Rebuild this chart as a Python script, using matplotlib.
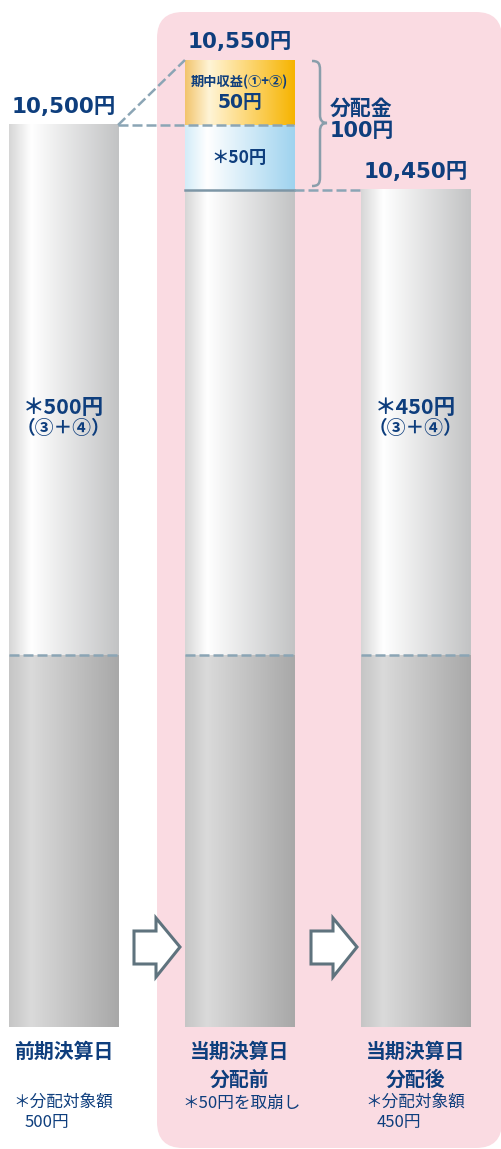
import matplotlib
matplotlib.use("Agg")
import matplotlib.pyplot as plt
import matplotlib.transforms as mtransforms
from matplotlib.colors import LinearSegmentedColormap
from matplotlib.patches import FancyBboxPatch, Polygon, PathPatch
from matplotlib.path import Path
import numpy as np

# データ（基準価額の推移：分配金の仕組み）
categories = ["前期決算日", "当期決算日\n分配前", "当期決算日\n分配後"]
nav = [10500, 10550, 10450]          # 基準価額（円）
income = 50                          # 期中収益（①+②）
drawdown = 50                        # 取崩し分
distribution = income + drawdown     # 分配金
target_amount = [500, None, 450]     # 分配対象額

# レイアウト（模式図なので下部は縮尺外）
base_val = 9806      # 棒の下端
split_val = 10092    # 点線の位置
bar_w = 0.62

NAVY = "#0e3e7d"
DASH = "#8ba5b5"
W, H = 502, 1149

fig = plt.figure(figsize=(W / 100, H / 100), dpi=100)
ax = fig.add_axes([0, 0, 1, 1])
ax.set_xlim(-63.5 / 176, (W - 63.5) / 176)
ax.set_ylim(10500 - (H - 125) / 1.3, 10500 + 125 / 1.3)
ax.set_autoscale_on(False)
ax.axis("off")

# ピクセル座標（左上原点）
px = mtransforms.Affine2D().scale(1 / W, -1 / H).translate(0, 1) + ax.transAxes
xpx = mtransforms.blended_transform_factory(ax.transData, px)

cjk = ["Noto Sans CJK JP", "DejaVu Sans"]
num = ["DejaVu Sans", "Noto Sans CJK JP"]

# ピンクの背景
bg = FancyBboxPatch((157, 12), W - 157, H - 13, boxstyle="round,pad=0,rounding_size=26",
                    transform=px, fc="#fadbe2", ec="none", zorder=0)
ax.add_patch(bg)

cm_top = LinearSegmentedColormap.from_list("top", [(0, "#d6d6d6"), (0.2, "#ffffff"), (1, "#c2c3c4")])
cm_low = LinearSegmentedColormap.from_list("low", [(0, "#c5c5c5"), (0.2, "#dadada"), (1, "#a8a8a8")])
cm_org = LinearSegmentedColormap.from_list("org", [(0, "#f2c46c"), (0.22, "#fff4d6"), (0.55, "#fdd97c"), (1, "#f6b400")])
cm_blu = LinearSegmentedColormap.from_list("blu", [(0, "#d3ecf8"), (0.2, "#ffffff"), (1, "#9fd3ef")])
grad = np.linspace(0, 1, 256).reshape(1, -1)


def seg(i, y0, y1, cmap):
    ax.imshow(grad, extent=[i - bar_w / 2, i + bar_w / 2, y0, y1], cmap=cmap,
              aspect="auto", interpolation="bicubic", zorder=2)


after = nav[1] - distribution
tops = [nav[0], after, nav[2]]
for i, top in enumerate(tops):
    seg(i, base_val, split_val, cm_low)
    seg(i, split_val, top, cm_top)
    ax.plot([i - bar_w / 2, i + bar_w / 2], [split_val, split_val], color=DASH, lw=1.8,
            ls=(0, (4, 1.6)), zorder=3)

# 当期分配前の上乗せ部分
seg(1, after, after + drawdown, cm_blu)
seg(1, after + drawdown, nav[1], cm_org)

# 補助線
ax.plot([0 + bar_w / 2, 1 - bar_w / 2], [nav[0], nav[1]], color=DASH, lw=1.8, ls=(0, (4, 1.6)), zorder=3)
ax.plot([0 + bar_w / 2, 1 + bar_w / 2], [nav[0], nav[0]], color=DASH, lw=1.8, ls=(0, (4, 1.6)), zorder=3)
ax.plot([1 - bar_w / 2, 1 + bar_w / 2], [after, after], color="#7d96a6", lw=1.8, zorder=3)
ax.plot([1 + bar_w / 2, 2 - bar_w / 2], [nav[2], nav[2]], color=DASH, lw=1.8, ls=(0, (4, 1.6)), zorder=3)

# 基準価額ラベル
for i, v in enumerate(nav):
    ax.annotate(f"{v:,}円", (i, v), xytext=(0, 13), textcoords="offset points",
                ha="center", va="center", fontsize=15.5, fontweight="bold",
                color=NAVY, family=num, zorder=5)

# 棒の中のラベル
ax.text(1, nav[1] - income * 0.34, "期中収益(①+②)", ha="center", va="center",
        fontsize=9.5, fontweight="bold", color=NAVY, family=cjk, zorder=5)
ax.text(1, nav[1] - income * 0.66, f"{income}円", ha="center", va="center",
        fontsize=13.5, fontweight="bold", color=NAVY, family=num, zorder=5)
ax.text(1, after + drawdown / 2, f"＊{drawdown}円", ha="center", va="center",
        fontsize=12.5, fontweight="bold", color=NAVY, family=cjk, zorder=5)
for i in (0, 2):
    ax.text(i, 408, f"＊{target_amount[i]}円", transform=xpx, ha="center", va="center",
            fontsize=15.5, fontweight="bold", color=NAVY, family=cjk, zorder=5)
    ax.text(i, 429, "（③＋④）", transform=xpx, ha="center", va="center",
            fontsize=13.5, fontweight="bold", color=NAVY, family=cjk, zorder=5)

# 分配金の括弧
verts = [(312, 61), (318, 61), (320, 63), (320, 70), (320, 115), (320, 120), (322, 123), (327, 123),
         (322, 123), (320, 126), (320, 131), (320, 177), (320, 184), (318, 186), (312, 186)]
codes = [Path.MOVETO, Path.CURVE4, Path.CURVE4, Path.CURVE4, Path.LINETO, Path.CURVE4, Path.CURVE4,
         Path.CURVE4, Path.CURVE4, Path.CURVE4, Path.CURVE4, Path.LINETO, Path.CURVE4, Path.CURVE4,
         Path.CURVE4]
ax.add_patch(PathPatch(Path(verts, codes), transform=px, fc="none", ec="#8a9eab", lw=1.8, zorder=4))
ax.text(330, 108, "分配金", transform=px, ha="left", va="center", fontsize=15,
        fontweight="bold", color=NAVY, family=cjk, zorder=5)
ax.text(330, 131, f"{distribution}円", transform=px, ha="left", va="center", fontsize=15,
        fontweight="bold", color=NAVY, family=num, zorder=5)

# 矢印
for dx in (0, 177):
    pts = [(134, 931), (156, 931), (156, 918), (180, 947), (156, 977), (156, 964), (134, 964)]
    ax.add_patch(Polygon([(x + dx, y) for x, y in pts], closed=True, transform=px,
                         fc="white", ec="#5f737e", lw=2.2, joinstyle="miter", zorder=4))

# 下のラベル
for i, c in enumerate(categories):
    for k, line in enumerate(c.split("\n")):
        ax.text(i, 1051 + 28 * k, line, transform=xpx, ha="center", va="center",
                fontsize=14.3, fontweight="bold", color=NAVY, family=cjk, zorder=5)

note_kw = dict(transform=px, va="center", fontsize=12, color=NAVY, family=cjk, zorder=5)
ax.text(13, 1102, "＊分配対象額", ha="left", **note_kw)
ax.text(25, 1122, f"{target_amount[0]}円", ha="left", **note_kw)
ax.text(242, 1103, f"＊{drawdown}円を取崩し", ha="center", **note_kw)
ax.text(365, 1102, "＊分配対象額", ha="left", **note_kw)
ax.text(377, 1122, f"{target_amount[2]}円", ha="left", **note_kw)

fig.savefig("out.png", dpi=100)
